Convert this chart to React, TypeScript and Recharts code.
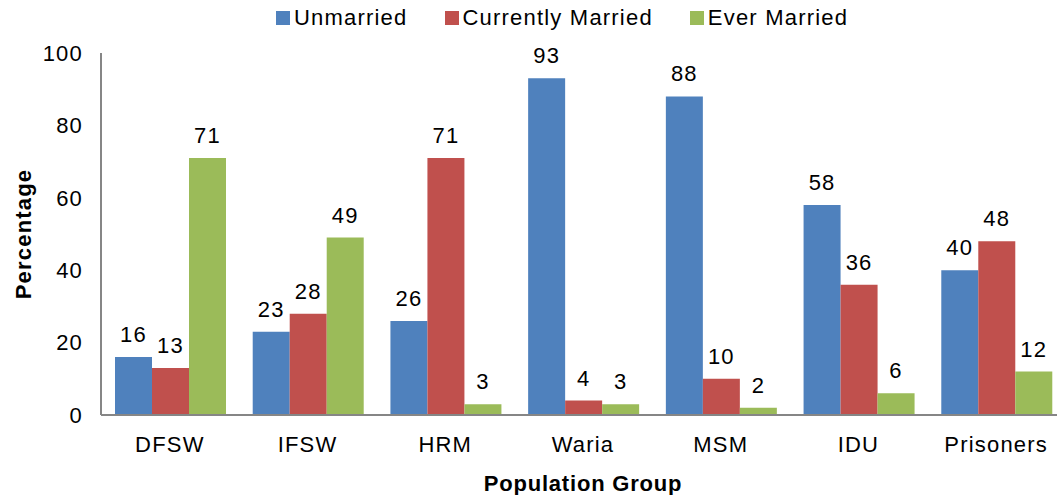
import React from 'react';
import { BarChart, Bar, XAxis, YAxis, Legend, LabelList, Label } from 'recharts';

const groups = ['DFSW', 'IFSW', 'HRM', 'Waria', 'MSM', 'IDU', 'Prisoners'];
const unmarried = [16, 23, 26, 93, 88, 58, 40];
const currentlyMarried = [13, 28, 71, 4, 10, 36, 48];
const everMarried = [71, 49, 3, 3, 2, 6, 12];
const yTicks = [0, 20, 40, 60, 80, 100];

const seriesNames = ['Unmarried', 'Currently Married', 'Ever Married'];
const seriesColors = ['#4F81BD', '#C0504D', '#9BBB59'];

const data = groups.map((g, i) => ({
  group: g,
  Unmarried: unmarried[i],
  'Currently Married': currentlyMarried[i],
  'Ever Married': everMarried[i],
}));

const font = '"Liberation Sans", Arial, sans-serif';
const ls = 1.2;

// legend in the original order, not sorted
function LegendRow() {
  return (
    <div style={{ display: 'flex', alignItems: 'center', fontFamily: font, fontSize: 22, letterSpacing: ls, color: '#000', whiteSpace: 'nowrap' }}>
      {seriesNames.map((n, i) => (
        <span key={n} style={{ display: 'flex', alignItems: 'center', marginRight: i < 2 ? 37 : 0 }}>
          <span style={{ width: 14, height: 14, background: seriesColors[i], marginRight: 4, display: 'inline-block' }} />
          {n}
        </span>
      ))}
    </div>
  );
}

function YTitle(props: any) {
  const vb = props.viewBox || { x: 0, y: 0, height: 0 };
  const cx = vb.x + 23;
  const cy = vb.y + vb.height / 2;
  return (
    <text x={cx} y={cy} transform={`rotate(-90, ${cx}, ${cy})`} textAnchor="middle" dominantBaseline="central"
      fill="#000" fontSize={22} fontWeight="bold" fontFamily={font} letterSpacing={ls}>
      Percentage
    </text>
  );
}

export default function App() {
  return (
    <div style={{ position: 'absolute', left: 0, top: 0, width: 1057, height: 495, overflow: 'hidden' }}>
      <BarChart
        width={1066}
        height={495}
        data={data}
        margin={{ top: 53, right: 1, left: 0, bottom: 0 }}
        barCategoryGap={14}
        barGap={0}
      >
        <Legend
          layout="horizontal"
          verticalAlign="middle"
          align="center"
          content={() => <LegendRow />}
          wrapperStyle={{ top: 5, left: 276, width: 'auto', height: 28 }}
        />
        <XAxis
          dataKey="group"
          axisLine={{ stroke: '#868686', strokeWidth: 2 }}
          tickLine={false}
          tickSize={0}
          tickMargin={21}
          height={80}
          tick={{ fill: '#000', fontSize: 22, fontFamily: font, letterSpacing: ls }}
        >
          <Label value="Population Group" position="insideBottom" offset={4} fill="#000" fontSize={22}
            fontWeight="bold" fontFamily={font} letterSpacing={0.8} />
        </XAxis>
        <YAxis
          domain={[0, 100]}
          ticks={yTicks}
          width={101}
          axisLine={{ stroke: '#868686', strokeWidth: 2 }}
          tickLine={false}
          tickSize={0}
          tickMargin={18}
          tick={{ fill: '#000', fontSize: 22, fontFamily: font, letterSpacing: ls }}
        >
          <Label content={YTitle} />
        </YAxis>
        {seriesNames.map((n, i) => (
          <Bar key={n} dataKey={n} fill={seriesColors[i]} isAnimationActive={false}>
            <LabelList dataKey={n} position="top" offset={15} fill="#000" fontSize={22} fontFamily={font} letterSpacing={ls} />
          </Bar>
        ))}
      </BarChart>
    </div>
  );
}
